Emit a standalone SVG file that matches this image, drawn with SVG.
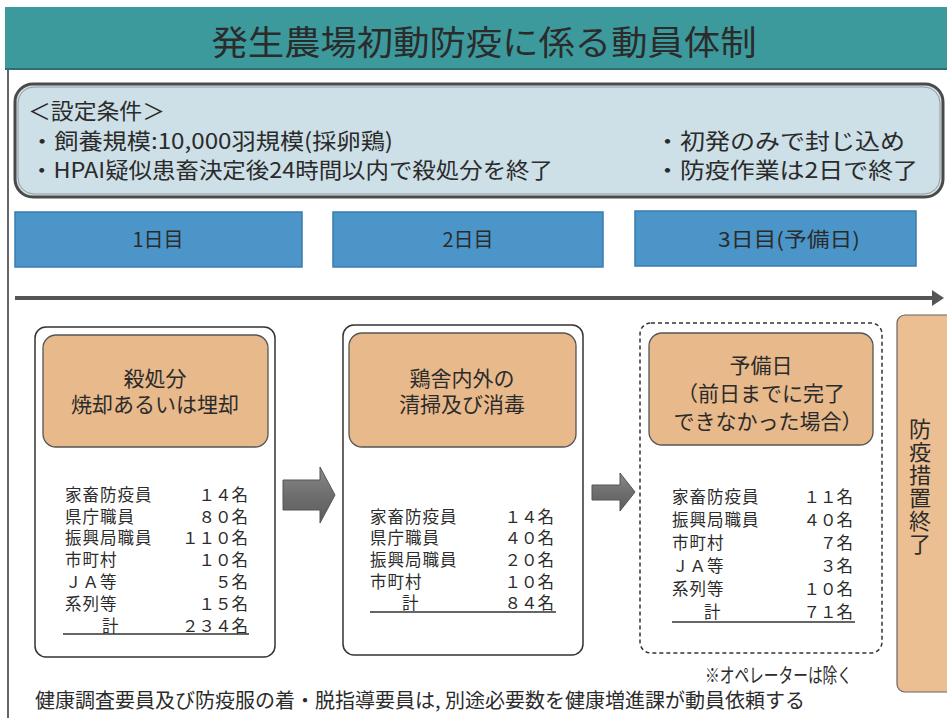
<svg xmlns="http://www.w3.org/2000/svg" width="947" height="718" viewBox="0 0 947 718">
<style>
text{font-family:"Noto Sans CJK JP","Noto Sans CJK SC",sans-serif;fill:#2b2b2b}
.cond{font-size:22px}
.day{font-size:20px;text-anchor:middle}
.head{font-size:21px;text-anchor:middle}
.lab{font-size:16.5px;letter-spacing:1px}
.num{font-size:16.5px;text-anchor:end}
.outer{fill:#fff;stroke:#333;stroke-width:1.5}
.inner{fill:#e8b98b;stroke:#555;stroke-width:1.3}
.dayb{fill:#4b95c9;stroke:#3a7cad;stroke-width:1.5}
.ul{stroke:#333;stroke-width:1.5}
.blk{fill:url(#ga);stroke:#555;stroke-width:1}
</style>
<defs>
<linearGradient id="ga" x1="0" y1="0" x2="0" y2="1">
<stop offset="0" stop-color="#8a8a8a"/><stop offset="0.5" stop-color="#6e6e6e"/><stop offset="1" stop-color="#5e5e5e"/>
</linearGradient>
<marker id="tl" markerWidth="4" markerHeight="4" refX="1" refY="2" orient="auto" markerUnits="strokeWidth">
<path d="M0,0 L3,2 L0,4 Z" fill="#555"/>
</marker>
</defs>
<rect width="947" height="718" fill="#fff"/>
<line x1="8" y1="70" x2="8" y2="718" stroke="#333" stroke-width="1.5"/>
<g id="title">
<rect x="5" y="7" width="942" height="63" fill="#3d9a9c"/>
<line x1="5" y1="69" x2="947" y2="69" stroke="#2c6f71" stroke-width="2"/>
<text x="484" y="55" font-size="34" text-anchor="middle" textLength="545" lengthAdjust="spacingAndGlyphs">発生農場初動防疫に係る動員体制</text>
</g>
<g id="conditions">
<rect x="15" y="84" width="928" height="113" rx="18" fill="#cddfe7" stroke="#4a4a4a" stroke-width="3"/>
<rect x="18" y="87" width="922" height="107" rx="16" fill="none" stroke="#999" stroke-width="1"/>
<text class="cond" x="28" y="119" textLength="137" lengthAdjust="spacingAndGlyphs">＜設定条件＞</text>
<text class="cond" x="30" y="149" textLength="363" lengthAdjust="spacingAndGlyphs">・飼養規模:10,000羽規模(採卵鶏)</text>
<text class="cond" x="30" y="178" textLength="523" lengthAdjust="spacingAndGlyphs">・HPAI疑似患畜決定後24時間以内で殺処分を終了</text>
<text class="cond" x="655" y="149" textLength="250" lengthAdjust="spacingAndGlyphs">・初発のみで封じ込め</text>
<text class="cond" x="655" y="178" textLength="263" lengthAdjust="spacingAndGlyphs">・防疫作業は2日で終了</text>
</g>
<g id="day1"><rect class="dayb" x="15" y="212" width="287" height="55"/><text class="day" x="158" y="247">1日目</text></g>
<g id="day2"><rect class="dayb" x="333" y="212" width="270" height="55"/><text class="day" x="468" y="247">2日目</text></g>
<g id="day3"><rect class="dayb" x="635" y="211" width="281" height="55"/><text class="day" x="789" y="247" textLength="142" lengthAdjust="spacingAndGlyphs">3日目(予備日)</text></g>
<g id="connectors">
<line x1="15" y1="298" x2="936" y2="298" stroke="#555" stroke-width="4" marker-end="url(#tl)"/>
<polygon class="blk" points="283,480 320,480 320,467 335,495 320,523 320,510 283,510"/>
<polygon class="blk" points="592,485 620,485 620,473 635,492 620,511 620,500 592,500"/>
</g>
<g id="col1">
<rect class="outer" x="35" y="327" width="240" height="330" rx="11"/>
<rect class="inner" x="43" y="335" width="225" height="112" rx="13"/>
<text class="head" x="155" y="386">殺処分<tspan x="155" dy="26">焼却あるいは埋却</tspan></text>
<text class="lab" x="65" y="501">家畜防疫員</text><text class="num" x="248" y="501">１４名</text>
<text class="lab" x="65" y="523">県庁職員</text><text class="num" x="248" y="523">８０名</text>
<text class="lab" x="65" y="544">振興局職員</text><text class="num" x="248" y="544">１１０名</text>
<text class="lab" x="65" y="566">市町村</text><text class="num" x="248" y="566">１０名</text>
<text class="lab" x="65" y="588">ＪＡ等</text><text class="num" x="248" y="588">５名</text>
<text class="lab" x="65" y="610">系列等</text><text class="num" x="248" y="610">１５名</text>
<text class="lab" x="102" y="632">計</text><text class="num" x="248" y="632">２３４名</text>
<line class="ul" x1="63" y1="634" x2="249" y2="634"/>
</g>
<g id="col2">
<rect class="outer" x="343" y="325" width="240" height="330" rx="11"/>
<rect class="inner" x="349" y="333" width="227" height="114" rx="13"/>
<text class="head" x="462" y="386">鶏舎内外の<tspan x="462" dy="26">清掃及び消毒</tspan></text>
<text class="lab" x="370" y="523">家畜防疫員</text><text class="num" x="554" y="523">１４名</text>
<text class="lab" x="370" y="544">県庁職員</text><text class="num" x="554" y="544">４０名</text>
<text class="lab" x="370" y="566">振興局職員</text><text class="num" x="554" y="566">２０名</text>
<text class="lab" x="370" y="588">市町村</text><text class="num" x="554" y="588">１０名</text>
<text class="lab" x="402" y="609">計</text><text class="num" x="554" y="609">８４名</text>
<line class="ul" x1="370" y1="612" x2="556" y2="612"/>
</g>
<g id="col3">
<rect x="640" y="323" width="242" height="330" rx="11" fill="#fff" stroke="#333" stroke-width="1.5" stroke-dasharray="4 3"/>
<rect class="inner" x="649" y="333" width="224" height="112" rx="13"/>
<text class="head" x="761" y="373">予備日<tspan x="761" dy="28">（前日までに完了</tspan><tspan x="768" dy="28">できなかった場合）</tspan></text>
<text class="lab" x="672" y="503">家畜防疫員</text><text class="num" x="853" y="503">１１名</text>
<text class="lab" x="672" y="526">振興局職員</text><text class="num" x="853" y="526">４０名</text>
<text class="lab" x="672" y="549">市町村</text><text class="num" x="853" y="549">７名</text>
<text class="lab" x="672" y="572">ＪＡ等</text><text class="num" x="853" y="572">３名</text>
<text class="lab" x="672" y="595">系列等</text><text class="num" x="853" y="595">１０名</text>
<text class="lab" x="704" y="618">計</text><text class="num" x="853" y="618">７１名</text>
<line class="ul" x1="672" y1="622" x2="855" y2="622"/>
</g>
<g id="end">
<rect x="897" y="315" width="62" height="377" rx="8" fill="#ebbf92" stroke="#666" stroke-width="1.2"/>
<text x="920" y="418" font-size="22" writing-mode="vertical-rl" letter-spacing="1">防疫措置終了</text>
</g>
<g id="notes">
<text x="852" y="683" font-size="20" text-anchor="end" textLength="147" lengthAdjust="spacingAndGlyphs">※オペレーターは除く</text>
<text x="35" y="708" font-size="20" textLength="770" lengthAdjust="spacingAndGlyphs">健康調査要員及び防疫服の着・脱指導要員は, 別途必要数を健康増進課が動員依頼する</text>
</g>
</svg>
